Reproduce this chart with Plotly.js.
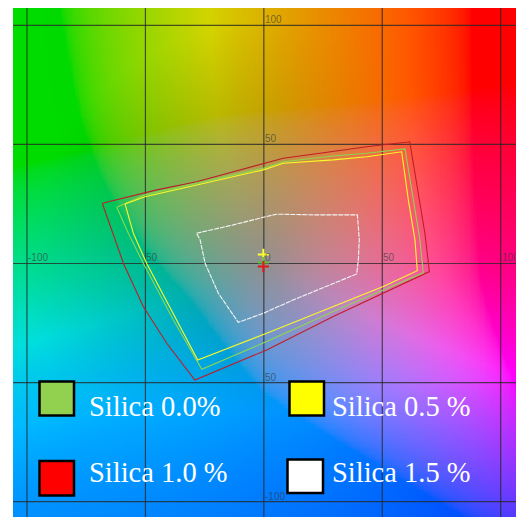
<!DOCTYPE html>
<html>
<head>
<meta charset="utf-8">
<script src="https://cdn.plot.ly/plotly-3.0.1.min.js"></script>
<style>html,body{margin:0;padding:0;background:#fff;}#chart{width:516px;height:518px;}</style>
</head>
<body>
<div id="chart"></div>
<script>
// ---- data (CIE a*, b*) ----
const gridVals = [-100, -50, 0, 50, 100];
const xLabelVals = [-100, -50, 0, 50, 100];
const xLabelText = ['-100', '50', '0', '50', '100'];
const yLabelVals = [100, 50, -50, -100];
const yLabelText = ['100', '50', '50', '-100'];

const seriesNames = ['Silica 0.0%', 'Silica 0.5 %', 'Silica 1.0 %', 'Silica 1.5 %'];

const red_a = [-68.2, -45.2, -28.4, -0.2, 8.2, 23.7, 43.4, 61.6, 64.5, 68.0, 69.9, 50.4, 29.3, 1.2, -29.1, -41.0, -50.9, -59.3, -68.2];
const red_b = [25.3, 30.9, 34.3, 42.1, 44.2, 46.3, 49.0, 51.1, 33.7, 12.7, -3.4, -12.5, -22.3, -36.3, -48.9, -33.5, -18.1, 0.1, 25.3];

const green_a = [-62.1, -50.2, -0.2, 8.2, 29.3, 43.4, 59.6, 63.1, 65.9, 67.3, 50.4, 29.3, 1.2, -26.2, -38.2, -50.9, -57.2, -62.1];
const green_b = [23.6, 28.8, 40.0, 42.7, 45.1, 46.3, 48.1, 26.7, 9.9, -3.9, -11.1, -20.2, -32.8, -44.4, -23.7, 0.1, 12.7, 23.6];

const yellow_a = [-58.6, -50.2, -0.2, 8.2, 29.3, 43.4, 58.2, 61.0, 63.8, 64.8, 50.4, 29.3, 1.2, -27.9, -38.2, -49.5, -55.1, -58.6];
const yellow_b = [25.0, 28.0, 39.3, 42.1, 43.5, 44.8, 46.9, 26.7, 9.9, -3.0, -9.7, -18.1, -29.3, -40.5, -20.9, 0.1, 12.7, 25.0];

const white_a = [-28.4, -12.9, -0.2, 5.4, 22.3, 39.5, 40.3, 39.9, 39.2, 26.5, 12.4, -0.2, -10.8, -19.2, -24.8, -26.9, -28.4];
const white_b = [12.7, 16.2, 19.4, 20.7, 20.4, 20.4, 9.9, 1.5, -4.4, -9.7, -15.3, -20.9, -24.7, -12.5, 0.1, 9.9, 12.7];

// paper white points
const wp_a = [-0.2, -0.2, -0.2];
const wp_b = [3.8, 0.4, -1.3];
const wp_colors = ['#ffff30', '#60c040', '#e01818'];

// ---- styles ----
const lineColors = {red: 'rgb(190,30,40)', green: 'rgb(140,215,80)', yellow: 'rgb(250,250,40)', white: 'rgb(245,245,245)'};
const legendFill = ['#92D050', '#FFFF00', '#FF0000', '#FFFFFF'];

const xRange = [-105.9, 106.46];
const yRange = [-106.43, 107.26];

// ---- background a*b* colour field (L* = 60, rendering approximation) ----
function finv(t) { return t > 6/29 ? t*t*t : 3*(6/29)*(6/29)*(t - 4/29); }
function gam(c) { c = Math.max(0, Math.min(1, c)); return c <= 0.0031308 ? 12.92*c : 1.055*Math.pow(c, 1/2.4) - 0.055; }
function hueShift(h) {
  if (h >= -90 && h <= 0) return -10 * Math.sin(Math.PI * (-h) / 90);
  let hh = h < -90 ? h + 360 : h;
  if (hh >= 90 && hh <= 225) return -11 * Math.sin(Math.PI * (hh - 90) / 135);
  return 0;
}
function labColor(a0, b0) {
  const L = 60;
  const C = Math.sqrt(a0*a0 + b0*b0);
  let h = Math.atan2(b0, a0) * 180 / Math.PI;
  h += hueShift(h);
  const a = C * Math.cos(h * Math.PI / 180), b = C * Math.sin(h * Math.PI / 180);
  const fy = (L + 16) / 116, fx = fy + a / 500, fz = fy - b / 200;
  const X = 0.95047 * finv(fx), Y = finv(fy), Z = 1.08883 * finv(fz);
  let r = 3.2406*X - 1.5372*Y - 0.4986*Z;
  let g = -0.9689*X + 1.8758*Y + 0.0415*Z;
  let bl = 0.0557*X - 0.2040*Y + 1.0570*Z;
  r = Math.max(0, r); g = Math.max(0, g); bl = Math.max(0, bl);
  let m = Math.max(r, g, bl, 1e-6);
  if (m > 1) { r /= m; g /= m; bl /= m; }
  const k = Math.pow(Math.min(1, C / 100), 1.5) * 0.5;
  const s = 1 + k * (1 / Math.max(r, g, bl, 1e-6) - 1);
  return [Math.round(255*gam(r*s)), Math.round(255*gam(g*s)), Math.round(255*gam(bl*s))];
}
const bgA0 = -107, bgA1 = 107, bgB0 = -107, bgB1 = 108, bgStep = 1;
const bgZ = [];
for (let bv = bgB0; bv <= bgB1; bv += bgStep) {
  const row = [];
  for (let av = bgA0; av <= bgA1; av += bgStep) row.push(labColor(av, bv));
  bgZ.push(row);
}

// grid lines
const gx = [], gy = [];
gridVals.forEach(v => {
  gx.push(v, v, null); gy.push(yRange[0] - 5, yRange[1] + 5, null);
  gx.push(xRange[0] - 5, xRange[1] + 5, null); gy.push(v, v, null);
});

const traces = [
  {type: 'image', z: bgZ, x0: bgA0, dx: bgStep, y0: bgB0, dy: bgStep, zsmooth: 'fast', hoverinfo: 'skip'},
  {type: 'scatter', mode: 'lines', x: gx, y: gy, line: {color: 'rgba(40,40,40,0.78)', width: 1.2}, hoverinfo: 'skip', showlegend: false},
  {type: 'scatter', mode: 'lines', name: seriesNames[2], x: red_a, y: red_b, line: {color: lineColors.red, width: 1.1}, showlegend: false},
  {type: 'scatter', mode: 'lines', name: seriesNames[0], x: green_a, y: green_b, line: {color: lineColors.green, width: 1.1}, showlegend: false},
  {type: 'scatter', mode: 'lines', name: seriesNames[1], x: yellow_a, y: yellow_b, line: {color: lineColors.yellow, width: 1.1}, showlegend: false},
  {type: 'scatter', mode: 'lines', name: seriesNames[3], x: white_a, y: white_b, line: {color: lineColors.white, width: 1.1, dash: '5px,1px'}, showlegend: false},
  {type: 'scatter', mode: 'markers', x: wp_a, y: wp_b, marker: {symbol: 'cross-thin-open', size: 8, color: wp_colors, line: {color: wp_colors, width: 2}}, showlegend: false, hoverinfo: 'skip'}
];

// pixel -> paper helpers for legend layout
const PL = 13, PT = 8, PW = 503, PH = 509;
const px = v => (v - PL) / PW;
const py = v => (PT + PH - v) / PH;

const annotations = [];
const tickFont = {family: 'Liberation Sans Narrow, Arial Narrow, Liberation Sans, Arial, sans-serif', size: 10, color: 'rgba(55,55,55,0.65)'};
xLabelVals.forEach((v, i) => annotations.push({x: v, y: 0, xref: 'x', yref: 'y', text: xLabelText[i], showarrow: false, xanchor: 'left', yanchor: 'bottom', xshift: -1, yshift: -2, font: tickFont}));
yLabelVals.forEach((v, i) => annotations.push({x: 0, y: v, xref: 'x', yref: 'y', text: yLabelText[i], showarrow: false, xanchor: 'left', yanchor: 'bottom', xshift: -1, yshift: -2, font: tickFont}));

// legend boxes and labels
const legBoxes = [[39.5, 381.5, 74, 415.5], [289.5, 381.5, 324, 415.5], [39.5, 461, 74, 495.5], [287.5, 459.5, 323, 493]];
const legText = [[87, 406], [330, 406], [87, 472.5], [330, 472.5]];
const legOrder = [0, 1, 2, 3];
const shapes = [];
legOrder.forEach(i => {
  const bx = legBoxes[i];
  shapes.push({type: 'rect', xref: 'paper', yref: 'paper', x0: px(bx[0]), x1: px(bx[2]), y0: py(bx[3]), y1: py(bx[1]), fillcolor: legendFill[i], line: {color: '#000', width: 2.5}, layer: 'above'});
  annotations.push({xref: 'paper', yref: 'paper', x: px(legText[i][0]), y: py(legText[i][1]), text: seriesNames[i], showarrow: false, xanchor: 'left', yanchor: 'middle', font: {family: 'Liberation Serif, Times New Roman, serif', size: 28.5, color: '#ffffff'}});
});

const layout = {
  width: 516, height: 518,
  margin: {l: PL, r: 0, t: PT, b: 1, pad: 0},
  paper_bgcolor: '#ffffff', plot_bgcolor: '#ffffff',
  showlegend: false,
  hovermode: false,
  xaxis: {range: xRange, showgrid: false, zeroline: false, showticklabels: false, ticks: '', showline: false, fixedrange: true},
  yaxis: {range: yRange, showgrid: false, zeroline: false, showticklabels: false, ticks: '', showline: false, fixedrange: true, scaleanchor: false, autorange: false},
  shapes: shapes,
  annotations: annotations
};

Plotly.newPlot('chart', traces, layout, {displayModeBar: false, staticPlot: true});
</script>
</body>
</html>
